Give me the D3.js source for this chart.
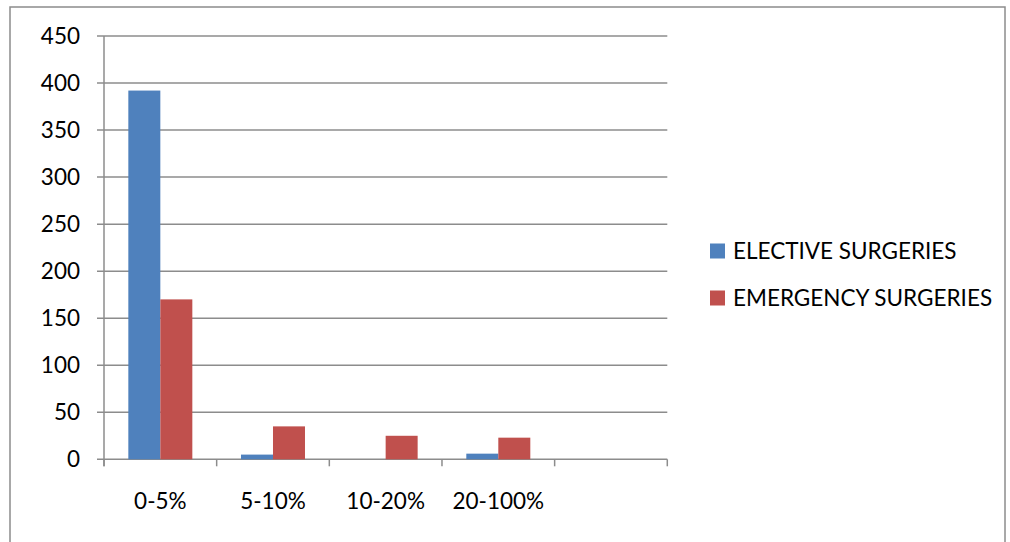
<!DOCTYPE html>
<html><head><meta charset="utf-8">
<script src="https://cdn.jsdelivr.net/npm/d3@7"></script>
<style>html,body{margin:0;padding:0;background:#fff;overflow:hidden}</style>
</head><body>
<script>
const categories = ["0-5%", "5-10%", "10-20%", "20-100%", ""];
const seriesNames = ["ELECTIVE SURGERIES", "EMERGENCY SURGERIES"];
const elective = [392, 5, 0, 6, null];
const emergency = [170, 35, 25, 23, null];
const yTicks = [0, 50, 100, 150, 200, 250, 300, 350, 400, 450];
const colors = ["#4f81bd", "#c0504d"];

const W = 1010, H = 542;
const svg = d3.select("body").append("svg").attr("width", W).attr("height", H);
const font = "Lato, 'Open Sans', sans-serif";
const fs = 22.5;
const gridCol = "#8c8c8c";

svg.append("rect").attr("x", 10).attr("y", 7).attr("width", 995).attr("height", 545)
  .attr("fill", "none").attr("stroke", gridCol).attr("stroke-width", 1.5);

const x0 = 104, x1 = 667.3, yTop = 36, yBot = 459.3;
const x = d3.scaleBand().domain(d3.range(categories.length)).range([x0, x1]).paddingInner(0).paddingOuter(0);
const y = d3.scaleLinear().domain([0, 450]).range([yBot, yTop]);

// gridlines
svg.append("g").selectAll("line").data(yTicks).join("line")
  .attr("x1", x0 - 7).attr("x2", x1).attr("y1", d => y(d)).attr("y2", d => y(d))
  .attr("stroke", gridCol).attr("stroke-width", 1.5);

// y axis line
svg.append("line").attr("x1", x0).attr("x2", x0).attr("y1", yTop).attr("y2", yBot + 7)
  .attr("stroke", gridCol).attr("stroke-width", 1.5);
// x tick marks
svg.append("g").selectAll("line").data(d3.range(categories.length + 1)).join("line")
  .attr("x1", i => x0 + i * x.bandwidth()).attr("x2", i => x0 + i * x.bandwidth())
  .attr("y1", yBot).attr("y2", yBot + 7).attr("stroke", gridCol).attr("stroke-width", 1.5);

// y labels
svg.append("g").selectAll("text").data(yTicks).join("text")
  .attr("x", 80).attr("y", d => y(d)).attr("dy", "0.36em").attr("text-anchor", "end")
  .attr("font-family", font).attr("font-size", fs).attr("fill", "#000").text(d => d);

// x labels
svg.append("g").selectAll("text").data(categories).join("text")
  .attr("x", (d, i) => x(i) + x.bandwidth() / 2).attr("y", 509).attr("text-anchor", "middle")
  .attr("font-family", font).attr("font-size", fs).attr("fill", "#000").text(d => d);

// bars
const bw = 32;
const series = [elective, emergency];
series.forEach((vals, s) => {
  svg.append("g").selectAll("rect").data(vals.map((v, i) => ({v, i})).filter(d => d.v !== null))
    .join("rect")
    .attr("x", d => x(d.i) + x.bandwidth() / 2 - bw + s * bw)
    .attr("y", d => y(d.v)).attr("width", bw).attr("height", d => yBot - y(d.v))
    .attr("fill", colors[s]);
});

// legend
const lg = svg.append("g");
seriesNames.forEach((n, i) => {
  const cy = 251 + i * 47;
  lg.append("rect").attr("x", 710).attr("y", cy - 7.5).attr("width", 15).attr("height", 15).attr("fill", colors[i]);
  lg.append("text").attr("x", 733).attr("y", cy).attr("dy", "0.36em")
    .attr("font-family", font).attr("font-size", fs).attr("fill", "#000").text(n);
});
</script>
</body></html>
